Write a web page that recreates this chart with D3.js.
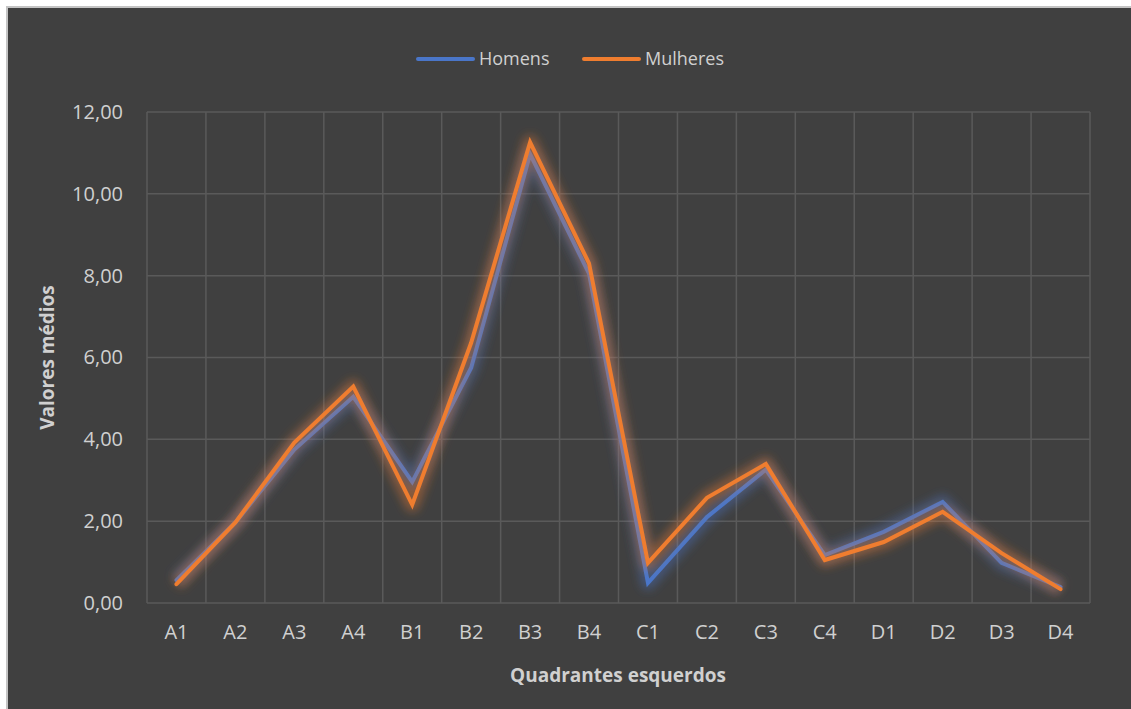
<!DOCTYPE html>
<html>
<head>
<meta charset="utf-8">
<script src="https://cdn.jsdelivr.net/npm/d3@7"></script>
<style>
  html, body { margin: 0; padding: 0; background: #ffffff; }
  svg { display: block; }
</style>
</head>
<body>
<script>
// Quadrant labels along the category axis
const categories = ["A1","A2","A3","A4","B1","B2","B3","B4","C1","C2","C3","C4","D1","D2","D3","D4"];
// Mean values per quadrant
const homens   = [0.56, 1.97, 3.75, 5.04, 2.96, 5.75, 10.97, 8.05, 0.49, 2.10, 3.26, 1.17, 1.74, 2.47, 0.98, 0.39];
const mulheres = [0.46, 1.97, 3.92, 5.29, 2.40, 6.36, 11.26, 8.30, 0.98, 2.57, 3.40, 1.05, 1.49, 2.23, 1.22, 0.34];
const yTicks = [0, 2, 4, 6, 8, 10, 12];
const seriesNames = ["Homens", "Mulheres"];

const W = 1131, H = 709;
const colors = { Homens: "#4a76c9", Mulheres: "#ef7d2f" };
const font = "'Open Sans', 'Liberation Sans', sans-serif";

const svg = d3.select("body").append("svg").attr("width", W).attr("height", H);

// glow filter used behind each line
const defs = svg.append("defs");
const glow = defs.append("filter").attr("id", "glow")
  .attr("x", "-10%").attr("y", "-10%").attr("width", "120%").attr("height", "120%");
glow.append("feGaussianBlur").attr("stdDeviation", 5);

// chart frame
svg.append("rect").attr("x", 7).attr("y", 7).attr("width", W - 6).attr("height", H - 6)
  .attr("fill", "#404040").attr("stroke", "#c4c4c4").attr("stroke-width", 2);

const plot = { left: 147, right: 1090, top: 112, bottom: 603 };

const x = d3.scaleBand().domain(categories).range([plot.left, plot.right]).padding(0);
const y = d3.scaleLinear().domain([0, 12]).range([plot.bottom, plot.top]);
const cx = c => x(c) + x.bandwidth() / 2;

// grid
const grid = svg.append("g").attr("stroke", "#5a5a5a").attr("stroke-width", 1.5);
grid.selectAll("line.h").data(yTicks).join("line")
  .attr("x1", plot.left).attr("x2", plot.right)
  .attr("y1", d => y(d)).attr("y2", d => y(d));
const bounds = categories.map(c => x(c)).concat([plot.right]);
grid.selectAll("line.v").data(bounds).join("line")
  .attr("x1", d => d).attr("x2", d => d)
  .attr("y1", plot.top).attr("y2", plot.bottom);

// y axis labels
const fmt = d => d3.format(".2f")(d).replace(".", ",");
const yAxis = svg.append("g").attr("transform", `translate(${plot.left},0)`)
  .call(d3.axisLeft(y).tickValues(yTicks).tickFormat(fmt).tickSize(0).tickPadding(24));
yAxis.select(".domain").remove();
yAxis.selectAll("text").attr("fill", "#d0d0d0").style("font-family", font).style("font-size", "20px");

// x axis labels
const xAxis = svg.append("g").attr("transform", `translate(0,${plot.bottom})`)
  .call(d3.axisBottom(x).tickSize(0).tickPadding(22));
xAxis.select(".domain").remove();
xAxis.selectAll("text").attr("fill", "#d0d0d0").style("font-family", font).style("font-size", "20px");

// axis titles
svg.append("text").attr("x", cx("B4") + 29).attr("y", 682).attr("text-anchor", "middle")
  .attr("fill", "#d0d0d0").style("font-family", font).style("font-size", "19px").style("font-weight", "bold")
  .text("Quadrantes esquerdos");
svg.append("text").attr("transform", `translate(54,${(plot.top + plot.bottom) / 2}) rotate(-90)`)
  .attr("text-anchor", "middle")
  .attr("fill", "#d0d0d0").style("font-family", font).style("font-size", "19px").style("font-weight", "bold")
  .text("Valores médios");

// lines
const series = [
  { name: "Homens", values: homens },
  { name: "Mulheres", values: mulheres }
];
const line = d3.line().x((d, i) => cx(categories[i])).y(d => y(d));

series.forEach(s => {
  const g = svg.append("g");
  g.append("path").attr("d", line(s.values)).attr("fill", "none")
    .attr("stroke", colors[s.name]).attr("stroke-width", 14).attr("stroke-opacity", 0.4)
    .attr("stroke-linejoin", "round").attr("filter", "url(#glow)");
  g.append("path").attr("d", line(s.values)).attr("fill", "none")
    .attr("stroke", colors[s.name]).attr("stroke-width", 4)
    .attr("stroke-linejoin", "miter").attr("stroke-linecap", "round");
});

// legend
const legend = svg.append("g");
const legendItems = [
  { name: seriesNames[0], x0: 418 },
  { name: seriesNames[1], x0: 584 }
];
legendItems.forEach(it => {
  legend.append("line").attr("x1", it.x0).attr("x2", it.x0 + 55).attr("y1", 59).attr("y2", 59)
    .attr("stroke", colors[it.name]).attr("stroke-width", 4).attr("stroke-linecap", "round");
  legend.append("text").attr("x", it.x0 + 61).attr("y", 59).attr("dy", "0.35em")
    .attr("fill", "#d0d0d0").style("font-family", font).style("font-size", "18px")
    .text(it.name);
});
</script>
</body>
</html>
